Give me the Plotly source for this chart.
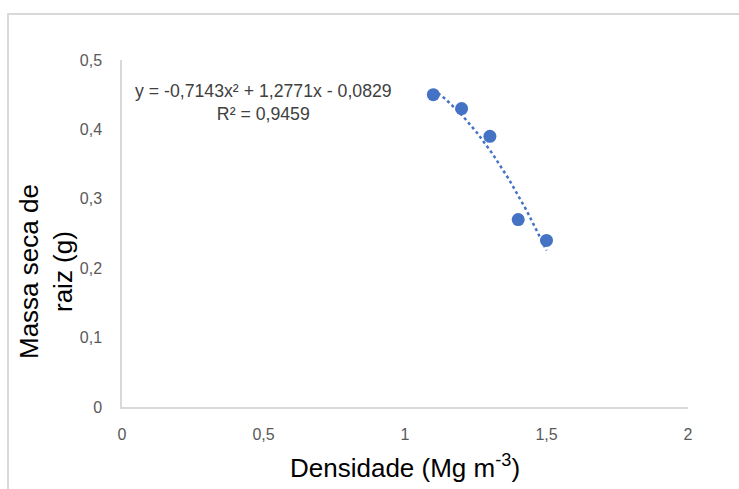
import numpy as np
import plotly.graph_objects as go

densidade = [1.1, 1.2, 1.3, 1.4, 1.5]
massa_seca = [0.45, 0.43, 0.39, 0.27, 0.24]
coef = [-0.7143, 1.2771, -0.0829]  # trendline coefficients shown on the chart
r2_text = "R² = 0,9459"
eq_text = "y = -0,7143x² + 1,2771x - 0,0829"
x_ticks = [0, 0.5, 1, 1.5, 2]
y_ticks = [0, 0.1, 0.2, 0.3, 0.4, 0.5]
x_title = "Densidade (Mg m<sup>-3</sup>)"
y_title = "Massa seca de<br>raiz (g)"

blue = "#4472C4"
tick_font = dict(family="Liberation Sans, Arial, sans-serif", size=16, color="#595959")
title_font = dict(family="Liberation Sans, Arial, sans-serif", size=26, color="#000000")

L, R, T, B = 122, 688, 60, 407
W, H = 739, 489
pw, ph = R - L, B - T

def px(x):
    return (x - L) / pw

def py(y):
    return (B - y) / ph

xt = np.linspace(min(densidade), max(densidade), 60)
yt = np.polyval(coef, xt)

fig = go.Figure()
fig.add_trace(go.Scatter(x=xt, y=yt, mode="lines",
                         line=dict(color=blue, width=2.5, dash="dot"),
                         hoverinfo="skip", showlegend=False))
fig.add_trace(go.Scatter(x=densidade, y=massa_seca, mode="markers",
                         marker=dict(color=blue, size=13),
                         showlegend=False))

fig.update_layout(
    width=W, height=H,
    margin=dict(l=L, r=W - R, t=T, b=H - B),
    paper_bgcolor="white", plot_bgcolor="white",
    separators=",.",
    xaxis=dict(range=[0, 2], tickvals=x_ticks, showgrid=False, zeroline=False,
               showline=True, linecolor="#D9D9D9", linewidth=1.5,
               ticks="outside", ticklen=12, tickcolor="rgba(0,0,0,0)",
               tickfont=tick_font, automargin=False),
    yaxis=dict(range=[0, 0.5], tickvals=y_ticks, showgrid=False, zeroline=False,
               showline=True, linecolor="#D9D9D9", linewidth=1.5,
               ticks="outside", ticklen=15, tickcolor="rgba(0,0,0,0)",
               tickfont=tick_font, automargin=False),
    shapes=[dict(type="rect", xref="paper", yref="paper",
                 x0=px(8), x1=px(760), y0=py(500), y1=py(14),
                 line=dict(color="#D9D9D9", width=2), layer="below")],
    annotations=[
        dict(text=eq_text + "<br>" + r2_text, xref="paper", yref="paper",
             x=px(263), y=py(102), showarrow=False,
             align="center", xanchor="center", yanchor="middle",
             font=dict(family="Liberation Sans, Arial, sans-serif", size=17.7, color="#404040")),
        dict(text=x_title, xref="paper", yref="paper",
             x=px(405), y=py(466), showarrow=False,
             xanchor="center", yanchor="middle", font=title_font),
        dict(text=y_title, xref="paper", yref="paper",
             x=px(46), y=py(272), showarrow=False, textangle=-90,
             align="center", xanchor="center", yanchor="middle", font=title_font),
    ],
)

fig.write_html("out.html", config={"displayModeBar": False},
               post_script="document.body.style.margin='0';")
